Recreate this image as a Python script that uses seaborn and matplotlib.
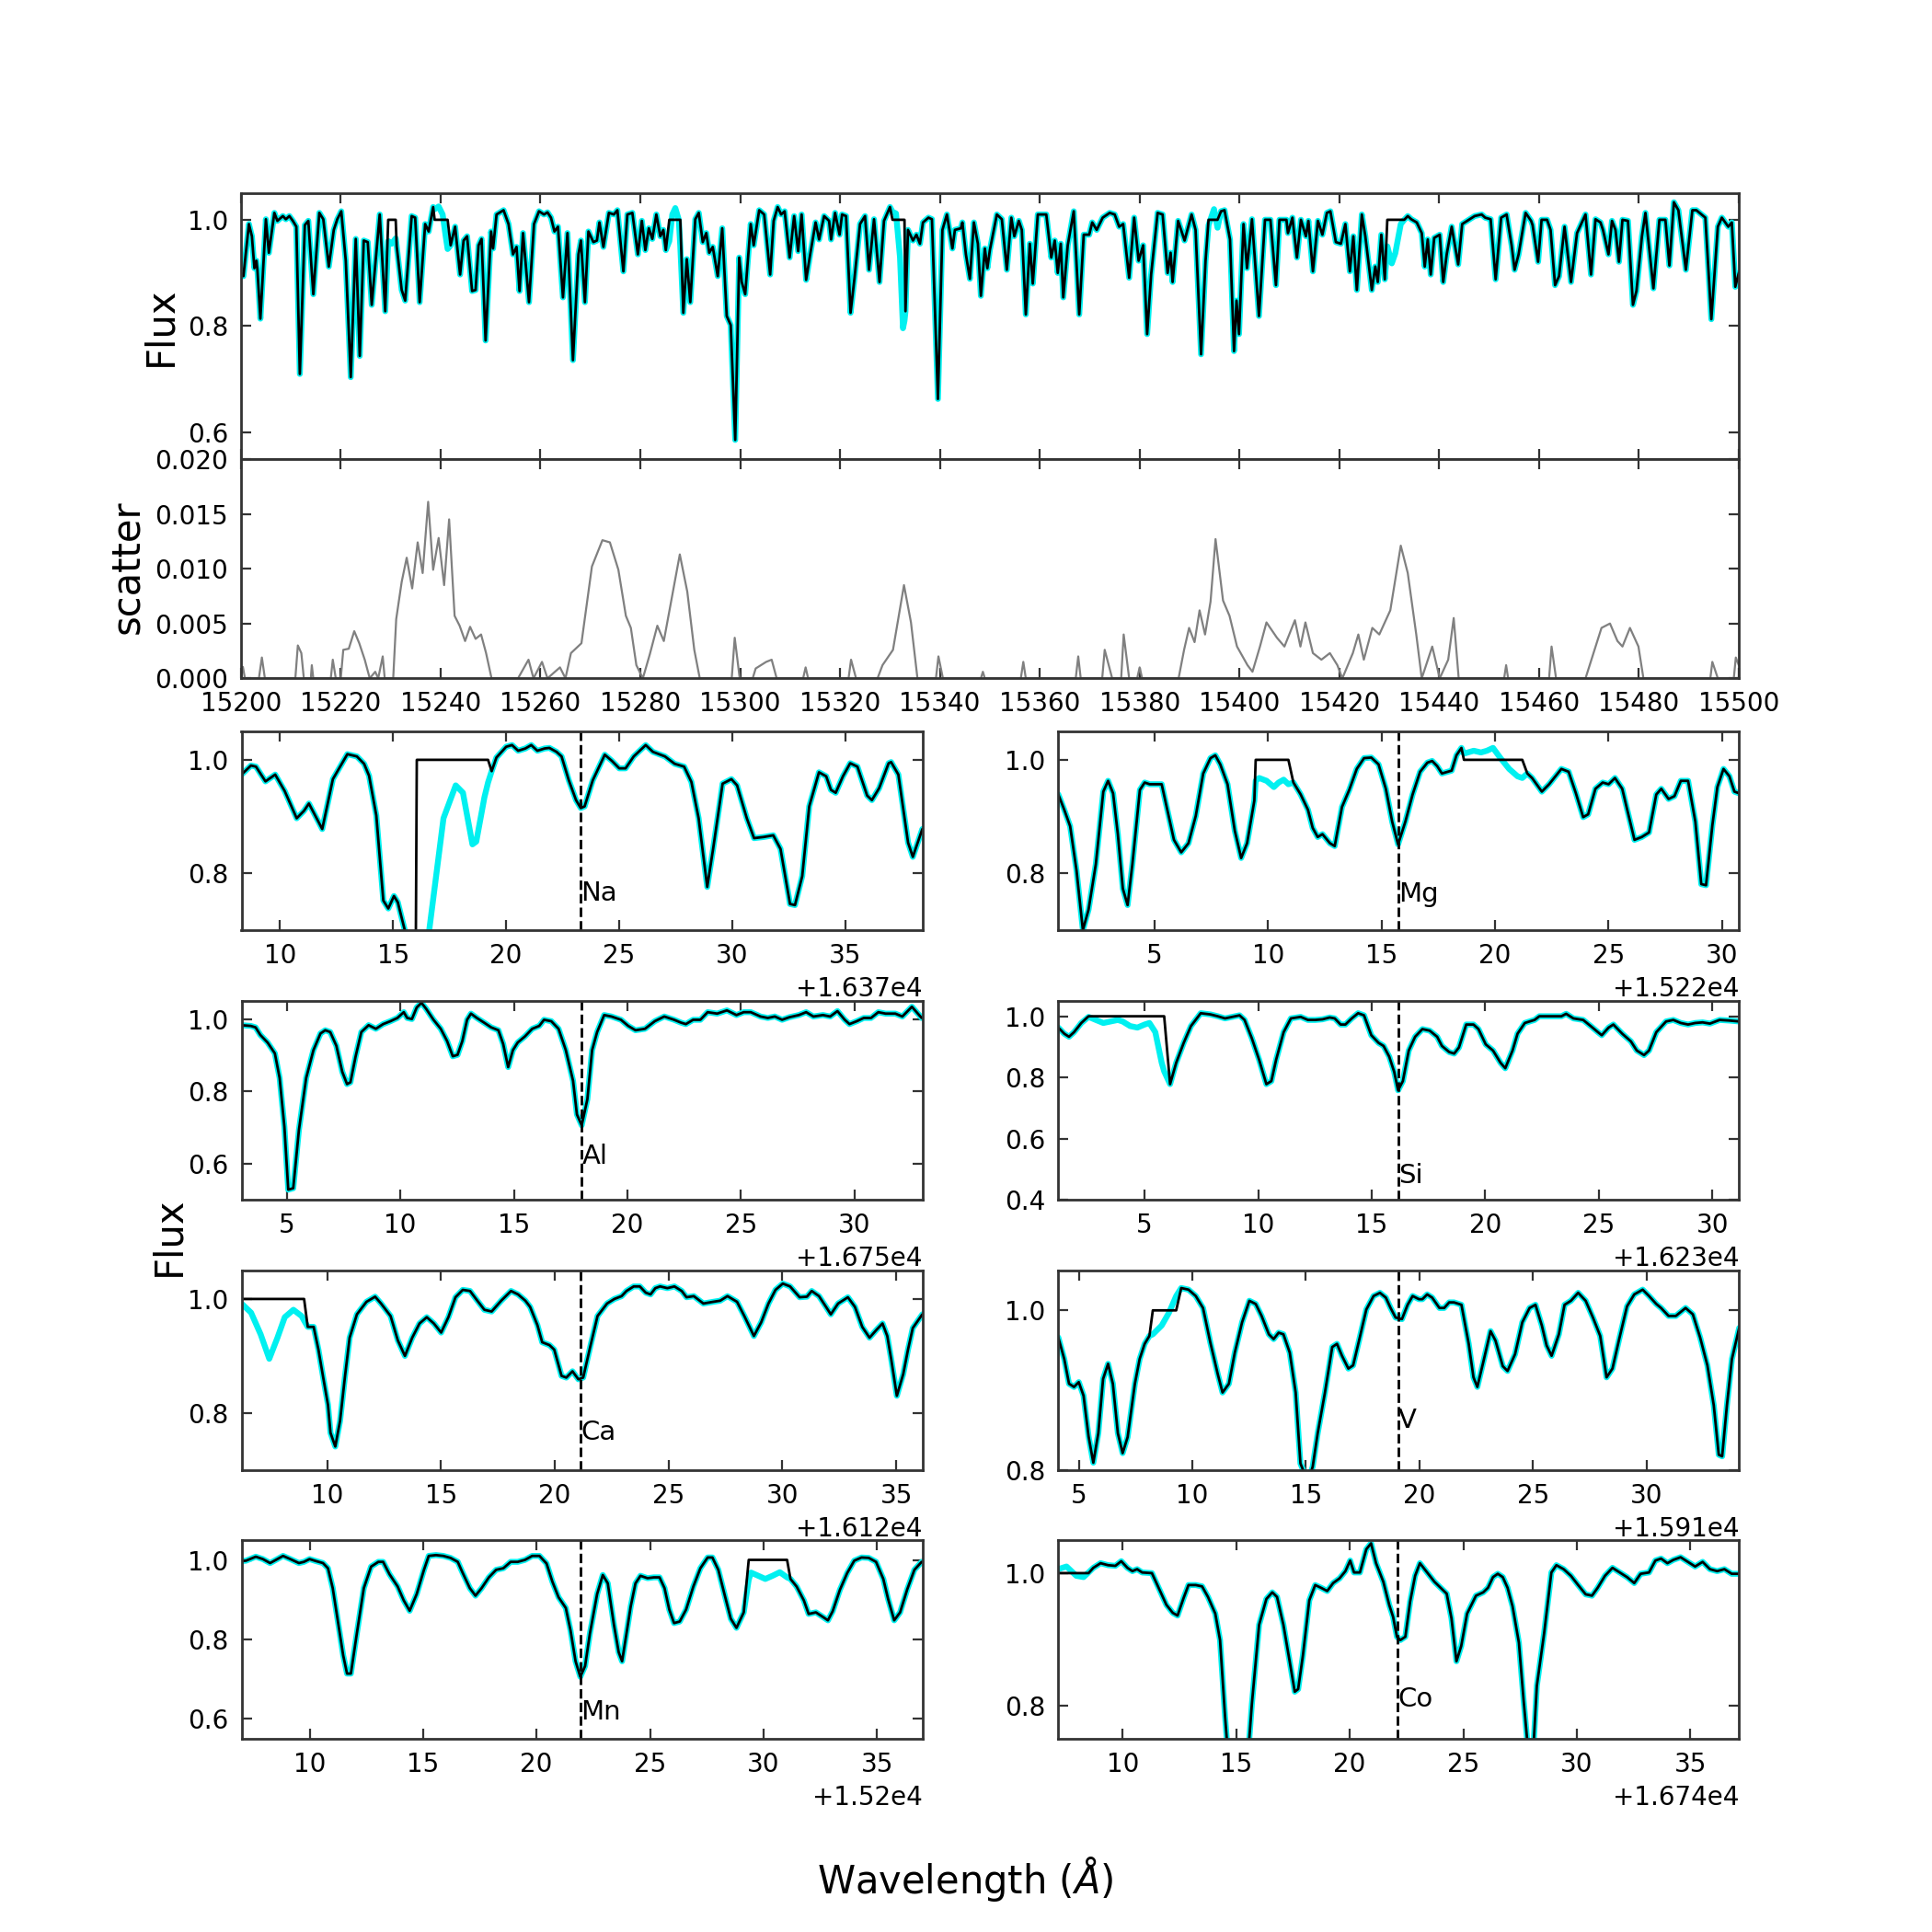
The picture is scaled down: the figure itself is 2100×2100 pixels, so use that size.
import numpy as np
import matplotlib
matplotlib.use("Agg")
import matplotlib.pyplot as plt
import seaborn as sns
from matplotlib.ticker import MultipleLocator, ScalarFormatter

# ---------------- data (wavelength offsets in Angstrom, normalised flux) ----------------
# overview spectrum, offsets from 15200 A: best-fit model; observed = model with masked pixels set to 1
top_base = 15200
top_points = [
    (0.0, 0.900), (0.5, 0.894), (1.6, 0.992), (2.2, 0.969), (2.7, 0.909), (3.1, 0.923), (3.3, 0.906),
    (3.9, 0.814), (5.0, 1.001), (5.6, 0.938), (6.7, 1.013), (7.3, 0.998), (8.4, 1.007), (9.0, 1.001),
    (9.7, 1.007), (10.4, 0.998), (11.1, 0.987), (11.8, 0.710), (12.8, 0.990), (13.5, 0.998), (14.5, 0.860),
    (15.7, 1.013), (16.5, 1.001), (17.6, 0.912), (18.6, 0.981), (19.3, 1.001), (20.1, 1.016), (21.0, 0.923),
    (22.0, 0.704), (23.0, 0.964), (23.8, 0.744), (24.6, 0.961), (25.4, 0.958), (26.2, 0.840), (27.8, 1.010),
    (28.9, 0.828), (29.5, 0.960), (30.2, 0.955), (31.0, 0.965), (31.2, 0.950), (32.2, 0.868), (32.9, 0.848),
    (34.2, 1.007), (34.9, 1.004), (35.8, 0.845), (36.9, 0.992), (37.6, 0.978), (38.5, 1.024), (38.8, 1.020),
    (39.6, 1.025), (40.4, 1.010), (41.0, 0.970), (41.4, 0.945), (42.0, 0.952), (42.9, 0.987), (43.9, 0.897),
    (44.6, 0.961), (45.3, 0.969), (46.3, 0.866), (47.0, 0.868), (47.6, 0.952), (48.2, 0.964), (49.0, 0.773),
    (50.1, 0.978), (50.5, 0.946), (51.2, 1.010), (52.6, 1.018), (53.6, 0.992), (54.5, 0.935), (55.2, 0.949),
    (55.8, 0.866), (56.5, 0.975), (57.7, 0.845), (58.7, 0.992), (59.7, 1.016), (60.7, 1.010), (61.4, 1.014),
    (62.1, 1.004), (62.8, 0.978), (63.5, 0.987), (64.5, 0.854), (65.4, 0.975), (66.5, 0.736), (67.6, 0.935),
    (68.1, 0.961), (68.9, 0.845), (69.6, 0.978), (70.6, 0.958), (71.3, 0.961), (71.8, 0.995), (72.6, 0.949),
    (73.7, 1.013), (74.7, 1.010), (75.4, 1.018), (76.6, 0.903), (77.4, 1.010), (78.4, 1.013), (79.5, 0.935),
    (80.3, 0.998), (81.0, 0.943), (81.7, 0.984), (82.4, 0.964), (83.2, 1.010), (84.0, 0.969), (84.6, 0.981),
    (85.1, 0.943), (85.8, 0.960), (86.4, 1.010), (87.0, 1.022), (87.7, 1.000), (88.0, 0.950), (88.6, 0.825),
    (89.3, 0.926), (90.0, 0.845), (91.0, 1.001), (91.7, 1.013), (92.5, 0.958), (93.2, 0.975), (93.8, 0.938),
    (94.5, 0.949), (95.5, 0.894), (96.4, 0.984), (97.3, 0.819), (98.1, 0.802), (99.0, 0.586), (99.8, 0.929),
    (100.3, 0.883), (101.0, 0.860), (102.1, 0.992), (102.7, 0.952), (103.8, 1.018), (104.8, 1.010),
    (106.0, 0.897), (106.7, 0.998), (107.5, 1.024), (108.2, 1.010), (108.9, 1.016), (109.9, 0.929),
    (110.8, 1.007), (111.6, 0.941), (112.3, 1.010), (113.2, 0.887), (114.0, 0.934), (115.1, 0.995),
    (115.8, 0.963), (116.8, 1.007), (117.8, 0.998), (118.2, 0.963), (119.0, 1.013), (119.9, 0.972),
    (120.4, 1.010), (121.2, 1.007), (122.1, 0.825), (122.9, 0.891), (124.0, 0.992), (125.0, 1.007),
    (125.8, 0.906), (126.8, 1.001), (127.9, 0.883), (128.8, 0.998), (130.0, 1.024), (130.5, 1.015),
    (131.2, 1.012), (132.0, 0.930), (132.6, 0.796), (132.9, 0.810), (133.1, 0.828), (133.6, 0.981),
    (134.6, 0.961), (135.3, 0.972), (136.0, 0.955), (136.6, 0.995), (137.7, 1.004), (138.4, 1.001),
    (139.6, 0.663), (140.5, 0.981), (141.4, 1.010), (142.5, 0.946), (143.0, 0.981), (144.2, 0.984),
    (144.5, 0.995), (145.2, 0.935), (146.0, 0.889), (146.8, 0.995), (147.6, 0.955), (148.2, 0.857),
    (149.0, 0.946), (149.5, 0.909), (150.0, 0.943), (151.4, 1.010), (152.4, 1.001), (153.4, 0.906),
    (154.3, 1.004), (154.9, 0.969), (155.8, 0.998), (156.4, 0.981), (157.2, 0.822), (158.0, 0.955),
    (158.6, 0.880), (159.6, 1.010), (161.3, 1.010), (162.3, 0.929), (163.0, 0.961), (163.6, 0.900),
    (164.2, 0.955), (164.7, 0.854), (165.6, 0.952), (166.8, 1.016), (167.9, 0.822), (168.8, 0.972),
    (169.9, 0.972), (170.5, 0.995), (171.4, 0.981), (172.6, 1.004), (174.0, 1.013), (175.0, 1.010),
    (175.9, 0.987), (176.7, 0.992), (177.9, 0.891), (178.9, 1.004), (179.8, 0.923), (180.7, 0.952),
    (181.5, 0.785), (182.3, 0.897), (183.6, 1.013), (184.6, 1.010), (185.6, 0.900), (186.2, 0.938),
    (186.6, 0.883), (187.7, 0.998), (189.0, 0.961), (190.4, 1.010), (191.2, 0.981), (192.3, 0.747),
    (193.2, 0.923), (193.8, 0.990), (194.9, 1.020), (195.6, 0.985), (196.3, 1.016), (197.0, 1.018),
    (198.1, 0.963), (198.9, 0.753), (199.4, 0.848), (199.9, 0.785), (200.8, 0.992), (201.5, 0.909),
    (202.5, 1.001), (203.9, 0.819), (205.1, 1.000), (206.2, 1.000), (207.3, 0.877), (208.0, 1.000),
    (209.4, 1.000), (209.7, 0.975), (210.6, 1.004), (211.5, 0.929), (212.3, 1.000), (213.3, 0.969),
    (213.8, 0.998), (214.7, 0.903), (215.7, 0.998), (216.6, 0.972), (217.5, 1.013), (218.2, 1.016),
    (219.3, 0.958), (220.3, 0.955), (221.2, 0.992), (222.1, 0.903), (222.8, 0.969), (223.5, 0.868),
    (224.5, 1.010), (225.2, 0.969), (226.5, 0.868), (227.2, 0.912), (227.7, 0.883), (228.4, 0.972),
    (229.1, 0.888), (229.6, 0.950), (230.5, 0.918), (231.2, 0.937), (232.3, 0.992), (233.0, 1.000),
    (233.7, 1.007), (234.4, 1.001), (235.5, 0.995), (236.5, 0.975), (237.1, 0.912), (237.7, 0.963),
    (238.3, 0.897), (239.0, 0.966), (240.1, 0.972), (240.8, 0.883), (241.5, 0.935), (242.5, 0.987),
    (243.8, 0.916), (244.6, 0.992), (246.1, 1.001), (247.1, 1.007), (248.5, 1.010), (249.2, 1.004),
    (250.3, 1.001), (251.3, 0.888), (252.4, 1.004), (253.5, 1.010), (254.5, 0.952), (255.1, 0.906),
    (255.9, 0.935), (257.3, 1.013), (258.4, 0.998), (258.7, 0.990), (259.8, 0.921), (260.5, 1.000),
    (261.6, 1.000), (262.3, 0.981), (263.2, 0.877), (264.0, 0.894), (265.1, 0.987), (266.4, 0.883),
    (267.6, 0.975), (269.3, 1.010), (270.4, 0.897), (271.3, 1.001), (272.3, 0.995), (272.8, 0.981),
    (273.9, 0.935), (274.6, 0.998), (275.3, 0.981), (276.0, 0.921), (276.7, 1.000), (277.8, 0.998),
    (278.8, 0.840), (279.5, 0.866), (280.6, 0.969), (281.3, 1.013), (282.9, 0.871), (284.1, 1.000),
    (285.3, 1.000), (286.1, 0.914), (287.0, 1.033), (287.9, 1.018), (289.4, 0.906), (290.7, 1.018),
    (291.5, 1.018), (293.3, 1.004), (294.5, 0.813), (295.8, 0.987), (296.6, 1.004), (297.9, 0.987),
    (298.6, 0.995), (299.3, 0.874), (300.0, 0.900),
]
top_masks = [(29.4, 31.05), (38.7, 41.45), (85.7, 88.05), (130.4, 132.95), (193.7, 195.7), (229.5, 233.05)]

# scatter between spectra, offsets from 15200 A
scatter_points = [
    (0.0, 0.0), (0.4, 0.00104), (0.8, 0.0), (3.6, 0.0), (4.2, 0.0019), (4.8, 0.0), (10.9, 0.0), (11.4, 0.0030),
    (12.1, 0.0023), (12.6, 0.0), (14.0, 0.0), (14.2, 0.0012), (14.5, 0.0), (18.0, 0.0), (18.4, 0.0017), (19.0, 0.0),
    (20.0, 0.0), (20.5, 0.0026), (21.6, 0.0027), (22.7, 0.0043), (23.7, 0.0032), (24.8, 0.0017), (25.8, 0.0),
    (26.9, 0.0006), (27.5, 0.0), (28.4, 0.0020), (28.8, 0.0), (30.5, 0.0), (31.1, 0.0054), (32.2, 0.0088),
    (33.2, 0.0110), (34.3, 0.0082), (35.4, 0.0124), (36.4, 0.0096), (37.5, 0.0161), (38.5, 0.0099), (39.6, 0.0128),
    (40.7, 0.0085), (41.7, 0.0145), (42.8, 0.0057), (43.8, 0.0048), (44.9, 0.0034), (45.9, 0.0047), (47.0, 0.0036),
    (48.1, 0.0040), (49.1, 0.0023), (50.2, 0.0), (55.5, 0.0), (57.6, 0.0017), (58.6, 0.0), (60.3, 0.0015),
    (61.4, 0.0), (63.9, 0.0010), (65.0, 0.0), (66.1, 0.0023), (68.2, 0.0032), (70.3, 0.0102), (72.4, 0.0126),
    (73.9, 0.0124), (75.6, 0.0099), (77.1, 0.0057), (78.1, 0.0046), (79.2, 0.0012), (80.5, 0.0), (81.9, 0.0022),
    (83.4, 0.0048), (84.7, 0.0034), (85.8, 0.0061), (87.9, 0.0113), (89.4, 0.0079), (90.8, 0.0026), (91.9, 0.0),
    (98.3, 0.0), (98.9, 0.0037), (99.9, 0.0), (102.5, 0.0), (103.1, 0.0009), (105.2, 0.0015), (106.3, 0.0017),
    (107.3, 0.0), (112.6, 0.0), (113.1, 0.0010), (113.6, 0.0), (121.7, 0.0), (122.2, 0.0017), (123.2, 0.0),
    (127.5, 0.0), (128.5, 0.0012), (130.6, 0.0026), (132.8, 0.0085), (134.2, 0.0051), (135.5, 0.0), (139.2, 0.0),
    (139.7, 0.0020), (140.6, 0.0), (148.2, 0.0), (148.6, 0.0006), (149.0, 0.0), (156.2, 0.0), (156.7, 0.0015),
    (157.2, 0.0), (167.2, 0.0), (167.7, 0.0020), (168.2, 0.0), (172.5, 0.0), (173.0, 0.0026), (174.5, 0.0),
    (176.3, 0.0), (176.8, 0.0040), (177.9, 0.0), (179.5, 0.0), (180.0, 0.0010), (180.5, 0.0), (187.8, 0.0),
    (188.9, 0.0026), (189.9, 0.0046), (191.0, 0.0033), (192.0, 0.0062), (193.1, 0.0040), (194.2, 0.0070),
    (195.2, 0.0127), (196.7, 0.0071), (198.0, 0.0057), (199.5, 0.0029), (201.6, 0.0012), (202.6, 0.0006),
    (204.1, 0.0029), (205.4, 0.0051), (207.5, 0.0037), (209.0, 0.0029), (211.1, 0.0053), (212.2, 0.0029),
    (213.2, 0.0051), (214.7, 0.0023), (216.4, 0.0017), (218.1, 0.0023), (219.6, 0.0012), (220.6, 0.0),
    (222.7, 0.0023), (223.8, 0.0040), (224.9, 0.0017), (226.6, 0.0046), (228.0, 0.0040), (230.2, 0.0062),
    (232.3, 0.0121), (233.7, 0.0096), (235.4, 0.0040), (236.5, 0.0), (238.6, 0.0029), (240.1, 0.0),
    (241.8, 0.0017), (242.9, 0.0055), (243.9, 0.0), (253.0, 0.0), (253.4, 0.0012), (253.8, 0.0), (262.0, 0.0),
    (262.5, 0.0029), (263.4, 0.0), (269.3, 0.0), (272.5, 0.0046), (274.2, 0.0050), (275.7, 0.0034),
    (276.7, 0.0029), (278.2, 0.0046), (279.9, 0.0029), (280.9, 0.0), (294.3, 0.0), (294.7, 0.0015),
    (295.8, 0.0), (299.0, 0.0), (299.4, 0.0019), (300.0, 0.0012),
]

# zoomed windows around single element lines
na_points = [
    (8.30, 0.974), (8.72, 0.990), (8.94, 0.988), (9.36, 0.962), (9.79, 0.974), (10.21, 0.945), (10.74, 0.897),
    (11.06, 0.910), (11.28, 0.923), (11.49, 0.907), (11.87, 0.878), (12.34, 0.966), (12.98, 1.010), (13.40, 1.006),
    (13.72, 0.993), (13.94, 0.972), (14.26, 0.902), (14.57, 0.752), (14.79, 0.738), (15.04, 0.760), (15.21, 0.749),
    (15.53, 0.698), (15.80, 0.650), (16.00, 0.630), (16.05, 0.615), (16.30, 0.600), (16.60, 0.700), (17.23, 0.897),
    (17.77, 0.955), (18.09, 0.942), (18.51, 0.851), (18.68, 0.856), (19.04, 0.934), (19.20, 0.960), (19.36, 0.980),
    (19.57, 1.004), (20.00, 1.023), (20.26, 1.026), (20.53, 1.016), (20.85, 1.020), (21.11, 1.026), (21.38, 1.016),
    (21.70, 1.020), (21.91, 1.021), (22.23, 1.014), (22.45, 1.006), (22.77, 0.964), (23.09, 0.929), (23.30, 0.915),
    (23.47, 0.918), (23.83, 0.964), (24.36, 1.009), (24.68, 0.998), (25.00, 0.985), (25.28, 0.985), (25.64, 1.006),
    (26.17, 1.026), (26.49, 1.014), (27.02, 1.006), (27.45, 0.993), (27.87, 0.988), (28.19, 0.961), (28.51, 0.897),
    (28.89, 0.776), (29.15, 0.843), (29.57, 0.958), (29.96, 0.966), (30.21, 0.955), (30.64, 0.897), (30.96, 0.862),
    (31.38, 0.864), (31.81, 0.867), (32.13, 0.843), (32.55, 0.746), (32.77, 0.744), (33.09, 0.795), (33.40, 0.918),
    (33.83, 0.978), (34.15, 0.971), (34.36, 0.947), (34.57, 0.942), (34.89, 0.971), (35.21, 0.994), (35.53, 0.988),
    (35.96, 0.937), (36.17, 0.929), (36.49, 0.950), (36.91, 0.994), (37.02, 0.996), (37.34, 0.974), (37.77, 0.854),
    (37.98, 0.829), (38.40, 0.878),
]
na_masks = [(16.03, 19.25)]

mg_points = [
    (0.77, 0.939), (1.03, 0.912), (1.29, 0.883), (1.57, 0.805), (1.85, 0.700), (2.10, 0.736), (2.42, 0.816),
    (2.75, 0.944), (2.96, 0.963), (3.18, 0.941), (3.39, 0.869), (3.61, 0.773), (3.82, 0.744), (4.03, 0.816),
    (4.36, 0.947), (4.57, 0.960), (4.79, 0.957), (5.04, 0.957), (5.32, 0.957), (5.54, 0.917), (5.86, 0.859),
    (6.18, 0.837), (6.50, 0.853), (6.82, 0.901), (7.15, 0.976), (7.47, 1.003), (7.68, 1.008), (7.90, 0.992),
    (8.22, 0.957), (8.54, 0.875), (8.82, 0.827), (9.08, 0.853), (9.40, 0.928), (9.46, 0.963), (9.61, 0.968),
    (9.94, 0.963), (10.26, 0.952), (10.47, 0.960), (10.69, 0.965), (10.90, 0.957), (11.12, 0.960), (11.44, 0.939),
    (11.76, 0.912), (11.97, 0.880), (12.19, 0.864), (12.40, 0.869), (12.73, 0.853), (12.94, 0.848), (13.26, 0.917),
    (13.58, 0.947), (13.91, 0.984), (14.23, 1.003), (14.55, 1.004), (14.87, 0.992), (15.19, 0.949), (15.47, 0.891),
    (15.73, 0.851), (16.05, 0.891), (16.37, 0.939), (16.70, 0.979), (17.02, 0.995), (17.23, 0.998), (17.45, 0.989),
    (17.66, 0.976), (18.09, 0.981), (18.30, 1.008), (18.52, 1.021), (18.63, 1.011), (19.06, 1.016), (19.38, 1.013),
    (19.64, 1.016), (19.91, 1.021), (20.24, 1.003), (20.62, 0.984), (20.99, 0.971), (21.20, 0.968), (21.42, 0.976),
    (21.63, 0.968), (22.06, 0.944), (22.38, 0.957), (22.92, 0.984), (23.24, 0.979), (23.56, 0.941), (23.88, 0.899),
    (24.10, 0.904), (24.42, 0.949), (24.74, 0.960), (25.00, 0.957), (25.28, 0.968), (25.60, 0.949), (25.82, 0.912),
    (26.14, 0.859), (26.46, 0.864), (26.78, 0.872), (27.10, 0.939), (27.32, 0.949), (27.64, 0.931), (27.90, 0.936),
    (28.18, 0.963), (28.50, 0.963), (28.82, 0.891), (29.08, 0.781), (29.29, 0.779), (29.57, 0.885), (29.79, 0.952),
    (30.06, 0.984), (30.32, 0.971), (30.54, 0.944), (30.75, 0.941),
]
mg_masks = [(9.43, 10.95), (18.6, 21.25)]

al_points = [
    (2.99, 0.983), (3.41, 0.981), (3.62, 0.977), (3.83, 0.956), (4.15, 0.935), (4.47, 0.905), (4.68, 0.837),
    (4.89, 0.702), (5.06, 0.528), (5.28, 0.532), (5.53, 0.693), (5.85, 0.837), (6.17, 0.914), (6.48, 0.960),
    (6.69, 0.969), (6.91, 0.964), (7.18, 0.926), (7.44, 0.854), (7.65, 0.820), (7.80, 0.825), (8.03, 0.897),
    (8.28, 0.964), (8.60, 0.983), (8.92, 0.973), (9.24, 0.986), (9.56, 0.994), (9.87, 1.003), (10.15, 1.019),
    (10.30, 1.003), (10.51, 1.000), (10.72, 1.032), (10.93, 1.045), (11.14, 1.028), (11.46, 0.998), (11.78, 0.973),
    (12.06, 0.939), (12.31, 0.897), (12.52, 0.901), (12.73, 0.939), (12.94, 0.998), (13.11, 1.015), (13.37, 1.003),
    (13.69, 0.990), (14.00, 0.977), (14.32, 0.969), (14.53, 0.931), (14.75, 0.867), (14.96, 0.914), (15.17, 0.935),
    (15.49, 0.952), (15.81, 0.973), (16.12, 0.981), (16.33, 0.998), (16.65, 0.994), (16.97, 0.973), (17.29, 0.914),
    (17.61, 0.829), (17.78, 0.736), (17.99, 0.706), (18.24, 0.778), (18.45, 0.914), (18.67, 0.964), (18.98, 1.011),
    (19.30, 1.007), (19.72, 0.998), (20.04, 0.981), (20.36, 0.969), (20.78, 0.973), (21.21, 0.994), (21.63, 1.007),
    (22.06, 0.998), (22.37, 0.990), (22.58, 0.986), (22.90, 0.998), (23.22, 0.998), (23.54, 1.019), (23.96, 1.015),
    (24.39, 1.024), (24.81, 1.011), (25.13, 1.019), (25.44, 1.019), (25.87, 1.007), (26.19, 1.003), (26.50, 1.007),
    (26.82, 0.998), (27.14, 1.005), (27.56, 1.011), (27.88, 1.019), (28.20, 1.007), (28.62, 1.011), (28.94, 1.007),
    (29.26, 1.022), (29.58, 0.998), (29.79, 0.986), (30.11, 0.994), (30.42, 1.003), (30.74, 1.003), (31.06, 1.019),
    (31.38, 1.015), (31.81, 1.015), (32.12, 1.007), (32.54, 1.034), (32.97, 1.003),
]
al_masks = []

si_points = [
    (1.20, 0.963), (1.46, 0.943), (1.67, 0.933), (1.89, 0.948), (2.21, 0.978), (2.53, 0.998), (2.85, 0.988),
    (3.18, 0.978), (3.50, 0.983), (3.82, 0.988), (4.03, 0.983), (4.36, 0.968), (4.68, 0.963), (5.00, 0.973),
    (5.21, 0.978), (5.47, 0.948), (5.75, 0.848), (5.86, 0.820), (6.12, 0.778), (6.39, 0.848), (6.72, 0.913),
    (7.04, 0.968), (7.47, 1.010), (7.90, 1.006), (8.22, 1.000), (8.54, 0.993), (8.86, 0.998), (9.18, 1.003),
    (9.40, 0.988), (9.72, 0.928), (10.04, 0.858), (10.36, 0.778), (10.58, 0.788), (10.79, 0.858), (11.12, 0.948),
    (11.44, 0.993), (11.87, 0.998), (12.19, 0.988), (12.51, 0.988), (12.83, 0.990), (13.15, 0.996), (13.37, 0.993),
    (13.63, 0.973), (13.84, 0.973), (14.12, 0.993), (14.40, 1.010), (14.66, 1.003), (14.98, 0.938), (15.30, 0.913),
    (15.52, 0.903), (15.77, 0.868), (15.99, 0.818), (16.16, 0.758), (16.37, 0.788), (16.63, 0.888), (16.91, 0.933),
    (17.23, 0.958), (17.55, 0.953), (17.88, 0.933), (18.09, 0.903), (18.41, 0.883), (18.63, 0.878), (18.84, 0.898),
    (19.16, 0.973), (19.48, 0.973), (19.70, 0.958), (20.02, 0.908), (20.34, 0.888), (20.67, 0.848), (20.88, 0.830),
    (21.20, 0.888), (21.42, 0.943), (21.74, 0.978), (21.95, 0.983), (22.17, 0.988), (22.38, 1.000), (23.35, 1.000),
    (23.56, 1.008), (23.88, 0.993), (24.31, 0.988), (24.64, 0.968), (24.96, 0.948), (25.13, 0.938), (25.43, 0.963),
    (25.64, 0.973), (26.03, 0.943), (26.41, 0.918), (26.67, 0.888), (26.99, 0.873), (27.21, 0.888), (27.53, 0.948),
    (27.96, 0.983), (28.28, 0.988), (28.61, 0.978), (28.93, 0.973), (29.25, 0.978), (29.57, 0.980), (29.89, 0.976),
    (30.32, 0.988), (30.75, 0.986), (31.18, 0.983),
]
si_masks = [(2.5, 5.9)]

ca_points = [
    (6.24, 0.992), (6.66, 0.976), (7.08, 0.938), (7.46, 0.895), (7.82, 0.932), (8.14, 0.968), (8.52, 0.981),
    (8.88, 0.970), (8.99, 0.962), (9.15, 0.951), (9.41, 0.951), (9.62, 0.911), (9.83, 0.862), (10.04, 0.814),
    (10.15, 0.765), (10.36, 0.741), (10.57, 0.786), (10.78, 0.862), (10.99, 0.932), (11.31, 0.973), (11.73, 0.995),
    (12.11, 1.004), (12.37, 0.992), (12.79, 0.970), (13.11, 0.927), (13.42, 0.900), (13.74, 0.932), (14.06, 0.957),
    (14.38, 0.968), (14.69, 0.957), (15.01, 0.941), (15.33, 0.968), (15.64, 1.003), (15.96, 1.016), (16.28, 1.014),
    (16.60, 0.997), (16.91, 0.981), (17.23, 0.978), (17.65, 0.997), (18.08, 1.014), (18.39, 1.008), (18.71, 0.997),
    (18.92, 0.986), (19.24, 0.954), (19.45, 0.924), (19.77, 0.919), (19.98, 0.911), (20.30, 0.865), (20.51, 0.862),
    (20.78, 0.873), (21.04, 0.859), (21.25, 0.862), (21.56, 0.916), (21.88, 0.970), (22.30, 0.992), (22.62, 1.000),
    (22.94, 1.005), (23.15, 1.014), (23.47, 1.022), (23.74, 1.022), (24.00, 1.011), (24.21, 1.008), (24.42, 1.019),
    (24.63, 1.022), (24.95, 1.019), (25.26, 1.022), (25.58, 1.014), (25.79, 1.003), (26.11, 1.005), (26.53, 0.992),
    (26.96, 0.995), (27.27, 0.997), (27.59, 1.005), (28.01, 0.995), (28.33, 0.970), (28.75, 0.935), (29.07, 0.959),
    (29.39, 0.992), (29.70, 1.016), (30.02, 1.027), (30.34, 1.022), (30.76, 1.003), (31.08, 1.004), (31.29, 1.014),
    (31.61, 1.005), (31.92, 0.986), (32.13, 0.973), (32.45, 0.992), (32.88, 1.003), (33.19, 0.986), (33.51, 0.951),
    (33.83, 0.932), (34.14, 0.946), (34.40, 0.957), (34.61, 0.935), (34.78, 0.895), (35.03, 0.830), (35.31, 0.868),
    (35.52, 0.911), (35.73, 0.949), (36.15, 0.973),
]
ca_masks = [(6.2, 9.05)]

v_points = [
    (4.10, 0.966), (4.36, 0.939), (4.57, 0.908), (4.79, 0.904), (5.00, 0.910), (5.21, 0.893), (5.43, 0.842),
    (5.64, 0.809), (5.86, 0.846), (6.07, 0.914), (6.29, 0.933), (6.50, 0.908), (6.72, 0.846), (6.93, 0.821),
    (7.15, 0.841), (7.47, 0.908), (7.68, 0.939), (7.90, 0.958), (8.11, 0.968), (8.26, 0.970), (8.65, 0.981),
    (8.97, 0.997), (9.29, 1.018), (9.51, 1.028), (9.83, 1.026), (10.15, 1.018), (10.47, 1.003), (10.79, 0.960),
    (11.12, 0.920), (11.33, 0.897), (11.61, 0.908), (11.87, 0.947), (12.19, 0.985), (12.51, 1.012), (12.79, 1.008),
    (13.05, 0.993), (13.37, 0.970), (13.58, 0.964), (13.80, 0.972), (14.01, 0.970), (14.29, 0.947), (14.55, 0.897),
    (14.76, 0.808), (15.09, 0.785), (15.30, 0.804), (15.52, 0.846), (15.84, 0.897), (16.16, 0.954), (16.37, 0.958),
    (16.59, 0.943), (16.87, 0.927), (17.08, 0.931), (17.34, 0.962), (17.66, 1.001), (17.98, 1.018), (18.26, 1.022),
    (18.52, 1.016), (18.73, 1.003), (18.95, 0.991), (19.23, 0.989), (19.48, 1.007), (19.70, 1.018), (19.98, 1.014),
    (20.13, 1.014), (20.34, 1.020), (20.56, 1.016), (20.88, 1.003), (21.09, 1.003), (21.31, 1.010), (21.52, 1.010),
    (21.85, 1.007), (22.17, 0.958), (22.38, 0.916), (22.55, 0.904), (22.81, 0.935), (23.13, 0.974), (23.35, 0.962),
    (23.67, 0.930), (23.88, 0.924), (24.21, 0.945), (24.53, 0.985), (24.85, 1.003), (25.11, 1.007), (25.39, 0.981),
    (25.60, 0.956), (25.82, 0.943), (26.14, 0.970), (26.39, 1.007), (26.67, 1.012), (26.99, 1.022), (27.32, 1.012),
    (27.64, 0.991), (27.96, 0.968), (28.24, 0.916), (28.50, 0.927), (28.78, 0.962), (29.14, 1.005), (29.46, 1.020),
    (29.83, 1.026), (30.11, 1.018), (30.43, 1.008), (30.64, 1.003), (30.97, 0.993), (31.29, 0.993), (31.72, 1.003),
    (32.04, 0.995), (32.36, 0.966), (32.68, 0.931), (32.96, 0.881), (33.18, 0.819), (33.33, 0.817), (33.54, 0.881),
    (33.76, 0.939), (34.08, 0.978),
]
v_masks = [(8.2, 9.35)]

mn_points = [
    (6.99, 0.997), (7.20, 0.998), (7.63, 1.008), (7.94, 1.002), (8.26, 0.992), (8.58, 1.002), (8.83, 1.010),
    (9.15, 1.002), (9.53, 0.992), (9.75, 0.995), (10.00, 1.002), (10.28, 0.997), (10.59, 0.992), (10.81, 0.979),
    (11.02, 0.929), (11.23, 0.852), (11.48, 0.760), (11.65, 0.714), (11.82, 0.714), (12.08, 0.814), (12.39, 0.929),
    (12.71, 0.983), (13.03, 0.995), (13.24, 0.995), (13.52, 0.964), (13.88, 0.933), (14.15, 0.898), (14.41, 0.872),
    (14.72, 0.914), (15.04, 0.975), (15.25, 1.010), (15.57, 1.012), (15.89, 1.010), (16.21, 1.005), (16.53, 0.995),
    (16.74, 0.968), (17.06, 0.929), (17.31, 0.910), (17.58, 0.929), (17.90, 0.956), (18.22, 0.975), (18.54, 0.979),
    (18.86, 0.995), (19.17, 0.995), (19.49, 1.000), (19.81, 1.010), (20.13, 1.010), (20.44, 0.991), (20.70, 0.945),
    (20.97, 0.906), (21.29, 0.879), (21.50, 0.822), (21.72, 0.745), (21.93, 0.706), (22.14, 0.733), (22.35, 0.814),
    (22.67, 0.914), (22.92, 0.962), (23.14, 0.941), (23.41, 0.837), (23.62, 0.768), (23.77, 0.745), (23.94, 0.806),
    (24.15, 0.883), (24.36, 0.941), (24.58, 0.960), (24.89, 0.954), (25.17, 0.956), (25.42, 0.956), (25.64, 0.929),
    (25.85, 0.875), (26.06, 0.841), (26.31, 0.845), (26.59, 0.875), (26.91, 0.933), (27.22, 0.979), (27.54, 1.006),
    (27.75, 1.006), (28.01, 0.975), (28.28, 0.914), (28.56, 0.852), (28.81, 0.829), (29.13, 0.868), (29.35, 0.950),
    (29.45, 0.968), (29.77, 0.960), (30.08, 0.952), (30.40, 0.960), (30.72, 0.969), (31.04, 0.956), (31.19, 0.952),
    (31.46, 0.933), (31.78, 0.898), (31.99, 0.864), (32.31, 0.868), (32.63, 0.856), (32.84, 0.848), (33.05, 0.871),
    (33.37, 0.925), (33.69, 0.967), (34.00, 0.998), (34.32, 1.006), (34.64, 1.005), (34.96, 0.995), (35.28, 0.952),
    (35.49, 0.902), (35.76, 0.848), (36.02, 0.868), (36.33, 0.925), (36.65, 0.975), (36.97, 0.995),
]
mn_masks = [(29.3, 31.1)]

co_points = [
    (7.17, 1.006), (7.53, 1.010), (7.96, 0.996), (8.28, 0.994), (8.50, 1.001), (8.71, 1.008), (9.03, 1.015),
    (9.36, 1.012), (9.68, 1.011), (9.94, 1.018), (10.21, 1.008), (10.43, 1.003), (10.64, 1.006), (10.86, 1.001),
    (11.29, 1.000), (11.61, 0.976), (11.93, 0.952), (12.21, 0.940), (12.42, 0.936), (12.68, 0.962), (12.90, 0.982),
    (13.22, 0.982), (13.50, 0.980), (13.76, 0.964), (14.08, 0.939), (14.29, 0.899), (14.51, 0.784), (14.61, 0.740),
    (15.04, 0.620), (15.47, 0.700), (15.69, 0.802), (16.01, 0.922), (16.33, 0.961), (16.59, 0.971), (16.80, 0.964),
    (17.08, 0.922), (17.36, 0.866), (17.58, 0.821), (17.73, 0.825), (17.94, 0.876), (18.22, 0.959), (18.48, 0.982),
    (18.73, 0.978), (19.01, 0.973), (19.27, 0.985), (19.55, 0.992), (19.81, 1.003), (20.02, 1.019), (20.19, 1.001),
    (20.45, 1.001), (20.73, 1.036), (20.94, 1.045), (21.16, 1.015), (21.48, 0.987), (21.74, 0.952), (21.91, 0.934),
    (22.08, 0.904), (22.23, 0.899), (22.45, 0.904), (22.66, 0.957), (22.88, 0.996), (23.09, 1.015), (23.41, 1.001),
    (23.73, 0.987), (24.06, 0.976), (24.27, 0.969), (24.48, 0.932), (24.70, 0.867), (24.91, 0.890), (25.17, 0.939),
    (25.56, 0.966), (25.88, 0.971), (26.09, 0.978), (26.31, 0.994), (26.52, 0.999), (26.74, 0.994), (26.95, 0.978),
    (27.17, 0.950), (27.45, 0.895), (27.66, 0.807), (27.81, 0.750), (28.03, 0.700), (28.24, 0.830), (28.56, 0.909),
    (28.88, 1.001), (29.10, 1.012), (29.42, 1.006), (29.74, 0.996), (30.06, 0.982), (30.39, 0.968), (30.67, 0.966),
    (30.92, 0.978), (31.24, 0.996), (31.57, 1.008), (31.89, 1.001), (32.21, 0.994), (32.53, 0.985), (32.81, 0.999),
    (33.18, 1.001), (33.46, 1.019), (33.71, 1.022), (33.99, 1.015), (34.25, 1.020), (34.57, 1.024), (34.89, 1.017),
    (35.21, 1.010), (35.54, 1.017), (35.86, 1.006), (36.18, 1.003), (36.50, 1.006), (36.82, 0.999), (37.15, 0.999),
]
co_masks = [(7.1, 8.55)]

# element, window base wavelength, line position (offset), label height
elements = ["Na", "Mg", "Al", "Si", "Ca", "V", "Mn", "Co"]
bases = [16370, 15220, 16750, 16230, 16120, 15910, 15200, 16740]
line_pos = [23.30, 15.73, 17.99, 16.16, 21.14, 19.06, 21.95, 22.12]
label_y = [0.765, 0.763, 0.62, 0.478, 0.765, 0.862, 0.618, 0.81]
panel_points = [na_points, mg_points, al_points, si_points, ca_points, v_points, mn_points, co_points]
panel_masks = [na_masks, mg_masks, al_masks, si_masks, ca_masks, v_masks, mn_masks, co_masks]
x_limits = [(8.3, 38.4), (0.77, 30.75), (3.0, 33.0), (1.2, 31.18),
            (6.24, 36.15), (4.1, 34.08), (7.0, 37.0), (7.17, 37.15)]
y_limits = [(0.7, 1.05), (0.7, 1.05), (0.5, 1.05), (0.4, 1.05),
            (0.7, 1.05), (0.8, 1.05), (0.55, 1.05), (0.75, 1.05)]

# ---------------- style ----------------
sns.set_style("white")
plt.rcParams.update({
    "font.family": ["DejaVu Sans"],
    "text.color": "black",
    "xtick.direction": "in", "ytick.direction": "in",
    "xtick.major.size": 4, "ytick.major.size": 4,
    "xtick.major.width": 0.8, "ytick.major.width": 0.8,
    "xtick.color": "0.2", "ytick.color": "0.2",
    "xtick.labelcolor": "black", "ytick.labelcolor": "black",
    "xtick.labelsize": 10, "ytick.labelsize": 10,
    "axes.edgecolor": "0.2", "axes.linewidth": 1.0,
})


def split(points, base, masks):
    wl = np.array([p[0] for p in points])
    model = np.array([p[1] for p in points])
    obs = model.copy()
    for lo, hi in masks:
        obs[(wl >= lo) & (wl <= hi)] = 1.0
    return wl + base, model, obs


def draw_spectrum(ax, wl, model, obs):
    sns.lineplot(x=wl, y=model, ax=ax, color="#00f0f0", linewidth=2.3, estimator=None, sort=False)
    sns.lineplot(x=wl, y=obs, ax=ax, color="black", linewidth=1.0, estimator=None, sort=False)


def style_ticks(ax):
    ax.tick_params(top=True, right=True, bottom=True, left=True, pad=5)


fig = plt.figure(figsize=(10.5, 10.5), dpi=200)

# overview spectrum
ax_top = fig.add_axes([0.1247, 0.7624, 0.7753, 0.1376])
wl, model, obs = split(top_points, top_base, top_masks)
draw_spectrum(ax_top, wl, model, obs)
ax_top.set_xlim(15200, 15500)
ax_top.set_ylim(0.55, 1.05)
ax_top.xaxis.set_major_locator(MultipleLocator(20))
ax_top.yaxis.set_major_locator(MultipleLocator(0.2))
ax_top.tick_params(labelbottom=False)
style_ticks(ax_top)

# scatter panel
ax_sc = fig.add_axes([0.1247, 0.6489, 0.7753, 0.1135])
sx = np.array([p[0] for p in scatter_points]) + top_base
sy = np.array([p[1] for p in scatter_points])
sns.lineplot(x=sx, y=sy, ax=ax_sc, color="0.5", linewidth=0.8, estimator=None, sort=False)
ax_sc.set_xlim(15200, 15500)
ax_sc.set_ylim(0, 0.02)
ax_sc.xaxis.set_major_locator(MultipleLocator(20))
ax_sc.yaxis.set_major_locator(MultipleLocator(0.005))
ax_sc.xaxis.set_major_formatter(ScalarFormatter(useOffset=False))
style_ticks(ax_sc)

# element windows
lefts = [0.125, 0.5478]
rows = [(0.5186, 0.1028), (0.3790, 0.1029), (0.2392, 0.1032), (0.1000, 0.1029)]
for i, el in enumerate(elements):
    bottom, height = rows[i // 2]
    ax = fig.add_axes([lefts[i % 2], bottom, 0.3524, height])
    wl, model, obs = split(panel_points[i], bases[i], panel_masks[i])
    draw_spectrum(ax, wl, model, obs)
    ax.axvline(bases[i] + line_pos[i], color="black", linestyle="--", linewidth=1.0)
    ax.text(bases[i] + line_pos[i], label_y[i], el, ha="left", va="center", fontsize=10.5, color="black")
    ax.set_xlim(bases[i] + x_limits[i][0], bases[i] + x_limits[i][1])
    ax.set_ylim(*y_limits[i])
    ax.xaxis.set_major_locator(MultipleLocator(5))
    ax.yaxis.set_major_locator(MultipleLocator(0.2))
    ax.xaxis.set_major_formatter(ScalarFormatter(useOffset=bases[i]))
    ax.xaxis.get_offset_text().set_fontsize(10)
    ax.xaxis.get_offset_text().set_color("black")
    style_ticks(ax)

fig.text(0.0829, 0.831, "Flux", rotation=90, ha="center", va="center", fontsize=15, color="black")
fig.text(0.0657, 0.7066, "scatter", rotation=90, ha="center", va="center", fontsize=15, color="black")
fig.text(0.0874, 0.3603, "Flux", rotation=90, ha="center", va="center", fontsize=15, color="black")
fig.text(0.4994, 0.0274, r"Wavelength ($\AA$)", ha="center", va="center", fontsize=15, color="black")

fig.savefig("out.png", dpi=200)
